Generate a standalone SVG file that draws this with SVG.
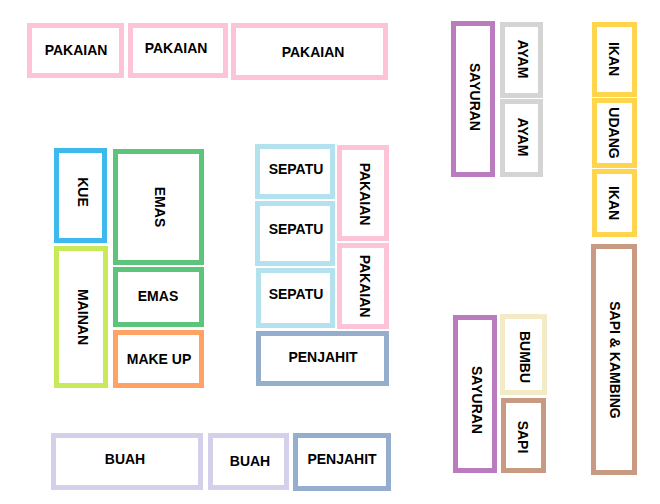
<svg xmlns="http://www.w3.org/2000/svg" width="660" height="504" viewBox="0 0 660 504">
<style>
rect{fill:#fff;stroke-width:5}
text{font-family:"Liberation Sans",Arial,sans-serif;font-weight:bold;font-size:14px;fill:#000;text-anchor:middle;dominant-baseline:central}
.pink{stroke:#FDC3D8}.purple{stroke:#BA7CBE}.gray{stroke:#D4D4D4}.yellow{stroke:#FFD54E}
.tan{stroke:#C99A82}.cream{stroke:#F3EBC5}.blue{stroke:#3DB9EE}.green{stroke:#5DC57B}
.lime{stroke:#C9EA58}.orange{stroke:#FFA263}.lblue{stroke:#B3E1EE}.steel{stroke:#96AECE}.lav{stroke:#D6CFEC}
</style>
<rect width="660" height="504" style="fill:#fff;stroke:none"/>
<g id="pakaian1"><rect class="pink" x="29.5" y="25.5" width="92" height="50"/><text x="76" y="50">PAKAIAN</text></g>
<g id="pakaian2"><rect class="pink" x="130.5" y="25.5" width="95" height="50"/><text x="176" y="48">PAKAIAN</text></g>
<g id="pakaian3"><rect class="pink" x="233.5" y="25.5" width="152" height="52"/><text x="313" y="52">PAKAIAN</text></g>
<g id="sayuran1"><rect class="purple" x="453.5" y="23.5" width="39" height="151"/><text transform="translate(475,97) rotate(90)">SAYURAN</text></g>
<g id="ayam1"><rect class="gray" x="502.5" y="24.5" width="38" height="71"/><text transform="translate(523,59) rotate(90)">AYAM</text></g>
<g id="ayam2"><rect class="gray" x="502.5" y="101.5" width="38" height="73"/><text transform="translate(523,137) rotate(90)">AYAM</text></g>
<g id="ikan1"><rect class="yellow" x="594.5" y="24.5" width="40" height="70"/><text transform="translate(614,59) rotate(90)">IKAN</text></g>
<g id="udang"><rect class="yellow" x="594.5" y="100.5" width="40" height="65"/><text transform="translate(614,133) rotate(90)">UDANG</text></g>
<g id="ikan2"><rect class="yellow" x="594.5" y="171.5" width="40" height="63"/><text transform="translate(614,203) rotate(90)">IKAN</text></g>
<g id="sapikambing"><rect class="tan" x="593.5" y="246.5" width="41" height="226"/><text transform="translate(615,360) rotate(90)">SAPI &amp; KAMBING</text></g>
<g id="sayuran2"><rect class="purple" x="455.5" y="317.5" width="39" height="153"/><text transform="translate(477,400) rotate(90)">SAYURAN</text></g>
<g id="bumbu"><rect class="cream" x="502.5" y="316.5" width="42" height="76"/><text transform="translate(525,357) rotate(90)">BUMBU</text></g>
<g id="sapi"><rect class="tan" x="503.5" y="400.5" width="40" height="70"/><text transform="translate(523,437) rotate(90)">SAPI</text></g>
<g id="kue"><rect class="blue" x="56.5" y="150.5" width="48" height="90"/><text transform="translate(83,192) rotate(90)">KUE</text></g>
<g id="emas1"><rect class="green" x="115.5" y="151.5" width="86" height="111"/><text transform="translate(160,207) rotate(90)">EMAS</text></g>
<g id="mainan"><rect class="lime" x="56.5" y="248.5" width="49" height="137"/><text transform="translate(83,317) rotate(90)">MAINAN</text></g>
<g id="emas2"><rect class="green" x="115.5" y="269.5" width="86" height="55"/><text x="158" y="296">EMAS</text></g>
<g id="makeup"><rect class="orange" x="115.5" y="332.5" width="86" height="53"/><text x="159" y="359">MAKE UP</text></g>
<g id="sepatu1"><rect class="lblue" x="257.5" y="146.5" width="75" height="50"/><text x="296" y="169">SEPATU</text></g>
<g id="sepatu2"><rect class="lblue" x="257.5" y="203.5" width="75" height="60"/><text x="296" y="229">SEPATU</text></g>
<g id="sepatu3"><rect class="lblue" x="258.5" y="270.5" width="74" height="55"/><text x="296" y="294">SEPATU</text></g>
<g id="pakaian4"><rect class="pink" x="339.5" y="147.5" width="47" height="91"/><text transform="translate(365,194) rotate(90)">PAKAIAN</text></g>
<g id="pakaian5"><rect class="pink" x="339.5" y="245.5" width="47" height="81"/><text transform="translate(365,286) rotate(90)">PAKAIAN</text></g>
<g id="penjahit1"><rect class="steel" x="258.5" y="333.5" width="128" height="50"/><text x="323" y="357">PENJAHIT</text></g>
<g id="buah1"><rect class="lav" x="53.5" y="435.5" width="147" height="52"/><text x="125" y="459">BUAH</text></g>
<g id="buah2"><rect class="lav" x="210.5" y="435.5" width="76" height="52"/><text x="250" y="461">BUAH</text></g>
<g id="penjahit2"><rect class="steel" x="295.5" y="435.5" width="93" height="53"/><text x="342" y="459">PENJAHIT</text></g>
<g id="connectors"></g>
</svg>
